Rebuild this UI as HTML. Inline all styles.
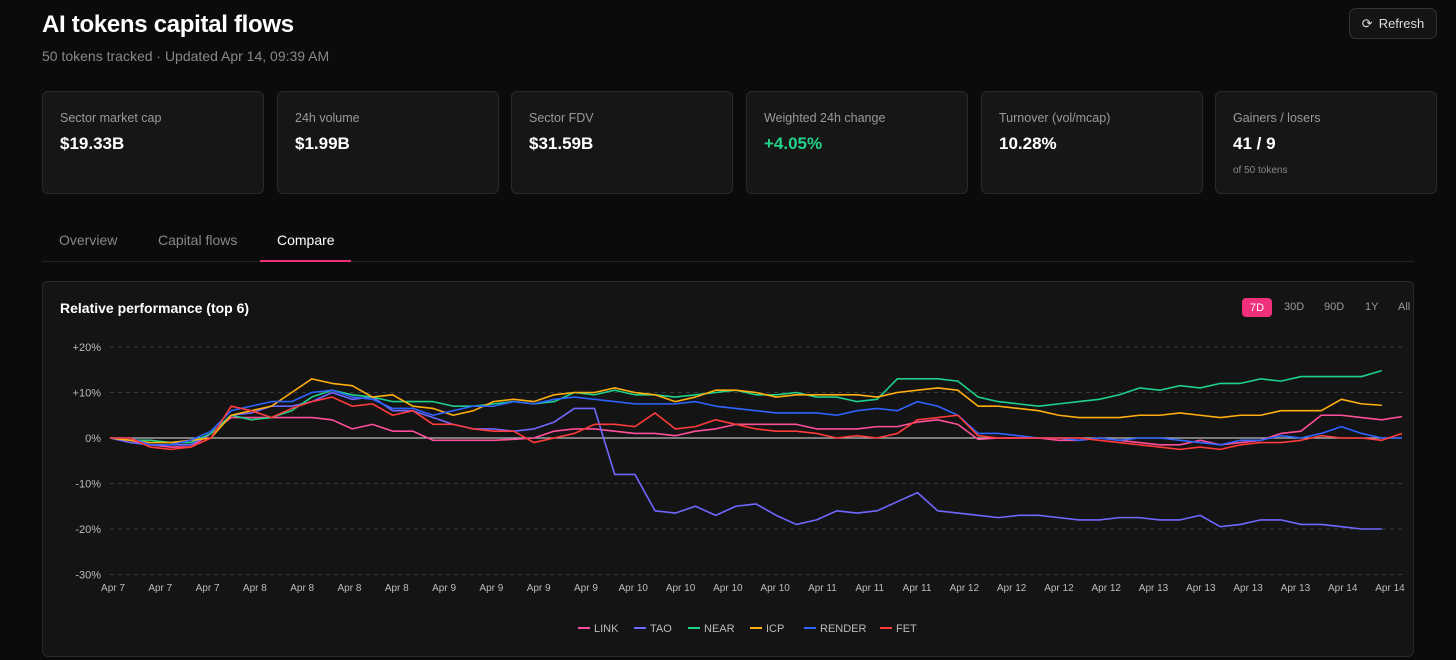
<!DOCTYPE html>
<html><head><meta charset="utf-8"><style>
*{box-sizing:border-box;margin:0;padding:0}
body{width:1456px;height:660px;background:#0b0b0b;font-family:"Liberation Sans",sans-serif;color:#fff;position:relative;overflow:hidden}
.abs{position:absolute}
h1{position:absolute;left:42px;top:11px;font-size:24px;font-weight:bold;letter-spacing:-0.3px}
.sub{left:42px;top:48px;font-size:14px;color:#888}
.refresh{left:1349px;top:8px;width:88px;height:31px;border:1px solid #333;border-radius:7px;font-size:13px;color:#ddd;display:flex;align-items:center;justify-content:center;gap:6px;background:#141414}
.card{position:absolute;top:91px;width:222px;height:103px;background:#161616;border:1px solid #2a2a2a;border-radius:6px;padding:19px 17px}
.card .l{font-size:12.5px;color:#999}
.card .v{font-size:17px;font-weight:bold;margin-top:9px}
.card .s{font-size:10px;color:#888;margin-top:11px}
.tab{top:232px;font-size:14px;color:#888}
.panel{left:42px;top:281px;width:1372px;height:376px;background:#141414;border:1px solid #2a2a2a;border-radius:6px}
</style></head><body>
<h1>AI tokens capital flows</h1>
<div class="abs sub">50 tokens tracked · Updated Apr 14, 09:39 AM</div>
<div class="abs refresh"><span style="font-size:13px">⟳</span>Refresh</div>
<div class="card" style="left:42px"><div class="l">Sector market cap</div><div class="v">$19.33B</div></div>
<div class="card" style="left:277px"><div class="l">24h volume</div><div class="v">$1.99B</div></div>
<div class="card" style="left:511px"><div class="l">Sector FDV</div><div class="v">$31.59B</div></div>
<div class="card" style="left:746px"><div class="l">Weighted 24h change</div><div class="v" style="color:#22d389">+4.05%</div></div>
<div class="card" style="left:981px"><div class="l">Turnover (vol/mcap)</div><div class="v">10.28%</div></div>
<div class="card" style="left:1215px"><div class="l">Gainers / losers</div><div class="v">41 / 9</div><div class="s">of 50 tokens</div></div>
<div class="abs tab" style="left:59px">Overview</div>
<div class="abs tab" style="left:158px">Capital flows</div>
<div class="abs tab" style="left:277px;color:#fff">Compare</div>
<div class="abs" style="left:42px;top:261px;width:1372px;height:1px;background:#222"></div>
<div class="abs" style="left:260px;top:260px;width:91px;height:2px;background:#f0307a"></div>
<div class="abs panel"></div>
<div class="abs" style="left:60px;top:300px;font-size:14px;font-weight:bold">Relative performance (top 6)</div>
<div class="abs" style="left:1242px;top:298px;width:30px;height:19px;background:#f0307a;border-radius:4px;font-size:11px;display:flex;align-items:center;justify-content:center">7D</div>
<div class="abs" style="left:1284px;top:301px;font-size:11px;color:#999">30D</div>
<div class="abs" style="left:1324px;top:301px;font-size:11px;color:#999">90D</div>
<div class="abs" style="left:1365px;top:301px;font-size:11px;color:#999">1Y</div>
<div class="abs" style="left:1398px;top:301px;font-size:11px;color:#999">All</div>
<svg id="chart" class="abs" style="left:0;top:0" width="1456" height="660"></svg>
<script>
const yTicks=[20,10,0,-10,-20,-30];
const xLabels=["Apr 7","Apr 7","Apr 7","Apr 8","Apr 8","Apr 8","Apr 8","Apr 9","Apr 9","Apr 9","Apr 9","Apr 10","Apr 10","Apr 10","Apr 10","Apr 11","Apr 11","Apr 11","Apr 12","Apr 12","Apr 12","Apr 12","Apr 13","Apr 13","Apr 13","Apr 13","Apr 14","Apr 14"];
const seriesNames=["LINK","TAO","NEAR","ICP","RENDER","FET"];
const seriesColors=["#ff4f9a","#7067ff","#1fd08a","#ffae0f","#2e63ff","#ff3b3b"];
const link=[0,-0.5,-1.5,-2,-2,1,4.5,4.5,4.5,4.5,4.5,4,2,3,1.5,1.5,-0.5,-0.5,-0.5,-0.5,-0.3,0,1.5,2,2,1.5,1,1,0.5,1.5,2,3,3,3,3,2,2,2,2.5,2.5,3.5,4,3,-0.3,0,0,0,-0.5,-0.5,0,-0.5,-1,-1.5,-1.5,-0.5,-1.5,-1,-0.5,1,1.5,5,5,4.5,4,4.7];
const tao=[0,-1,-1.5,-1.5,-1.5,1,5,5.5,7,7,8,10,8.5,9,6,6,4.5,3,2,2,1.5,2,3.5,6.5,6.5,-8,-8,-16,-16.5,-15,-17,-15,-14.5,-17,-19,-18,-16,-16.5,-16,-14,-12,-16,-16.5,-17,-17.5,-17,-17,-17.5,-18,-18,-17.5,-17.5,-18,-18,-17,-19.5,-19,-18,-18,-19,-19,-19.5,-20,-20];
const near=[0,-0.5,-0.5,-1,-1,1,5,4,4.5,6,9,10.5,9.5,9,8,8,8,7,7,7.5,8,7.5,8,10,9.5,10.5,9.5,9.5,9,9.5,10,10.5,9.5,9.5,10,9,9,8,8.5,13,13,13,12.5,9,8,7.5,7,7.5,8,8.5,9.5,11,10.5,11.5,11,12,12,13,12.5,13.5,13.5,13.5,13.5,14.8];
const icp=[0,-0.5,-1,-1,-0.5,0,5,6,7,10,13,12,11.5,9,9.5,7,6.5,5,6,8,8.5,8,9.5,10,10,11,10,9.5,8,9,10.5,10.5,10,9,9.5,9.5,9.5,9.5,9,10,10.5,11,10.5,7,7,6.5,6,5,4.5,4.5,4.5,5,5,5.5,5,4.5,5,5,6,6,6,8.5,7.5,7.2];
const render=[0,0,-1.5,-1.5,-0.5,1.5,6,7,8,8,10,10.5,9,8.5,6.5,6.5,5,6,7,7,8,7.5,8.5,9,8.5,8,7.5,7.5,7.5,8,7,6.5,6,5.5,5.5,5.5,5,6,6.5,6,8,7,5,1,1,0.5,0,0,-0.5,0,-0.5,0,0,-0.5,-1,-1.5,-0.5,-0.5,0.5,0,1,2.5,1,0,0];
const fet=[0,0,-2,-2.5,-2,0,7,6,4.5,6.5,8,9,7,7.5,5,6,3,3,2,1.5,1.5,-1,0,1,3,3,2.5,5.5,2,2.5,4,3,2,1.5,1.5,1,0,0.5,0,1,4,4.5,5,0.5,0,0,0,0,0,-0.5,-1,-1.5,-2,-2.5,-2,-2.5,-1.5,-1,-1,-0.5,0.5,0,0,-0.5,1];
const seriesData=[link,tao,near,icp,render,fet];
const NS="http://www.w3.org/2000/svg";
const svg=document.getElementById('chart');
const X0=110,X1=1402,NPTS=65;
const yScale=v=>438-v*4.55;
const xScale=i=>X0+i*(X1-X0)/(NPTS-1);
function mk(t,a){const e=document.createElementNS(NS,t);for(const k in a)e.setAttribute(k,a[k]);svg.appendChild(e);return e;}
yTicks.forEach(t=>{
  const g=mk('line',{x1:X0,x2:X1,y1:yScale(t),y2:yScale(t),stroke:t===0?'#bbb':'#3a3a3a','stroke-width':t===0?1.2:1,'stroke-dasharray':t===0?'':'4 4'});
  
  
  const tx=mk('text',{x:101,y:yScale(t)+4,'text-anchor':'end','font-size':11,fill:'#bbb','font-family':'Liberation Sans'});
  tx.textContent=(t>0?'+':'')+t+'%';
  
  
});
const xStep=(1390-113)/(xLabels.length-1);
xLabels.forEach((l,i)=>{
  const tx=mk('text',{x:113+i*xStep,y:591,'text-anchor':'middle','font-size':10,fill:'#bbb','font-family':'Liberation Sans'});
  tx.textContent=l;
  
  
});
seriesData.forEach((s,k)=>{
  const p=mk('polyline',{points:s.map((v,i)=>xScale(i)+','+yScale(v)).join(' '),fill:'none',stroke:seriesColors[k],'stroke-width':1.6,'stroke-linejoin':'round'});
  
  
});
const legW=[46,44,52,44,66,40];let lx=578;
seriesNames.forEach((n,k)=>{
  const l=mk('line',{x1:lx,x2:lx+12,y1:628,y2:628,stroke:seriesColors[k],'stroke-width':2});
  
  
  const t=mk('text',{x:lx+16,y:632,'font-size':11,fill:'#bbb','font-family':'Liberation Sans'});
  t.textContent=n;
  
  
  lx+=legW[k]+10;
});
</script>
</body></html>
